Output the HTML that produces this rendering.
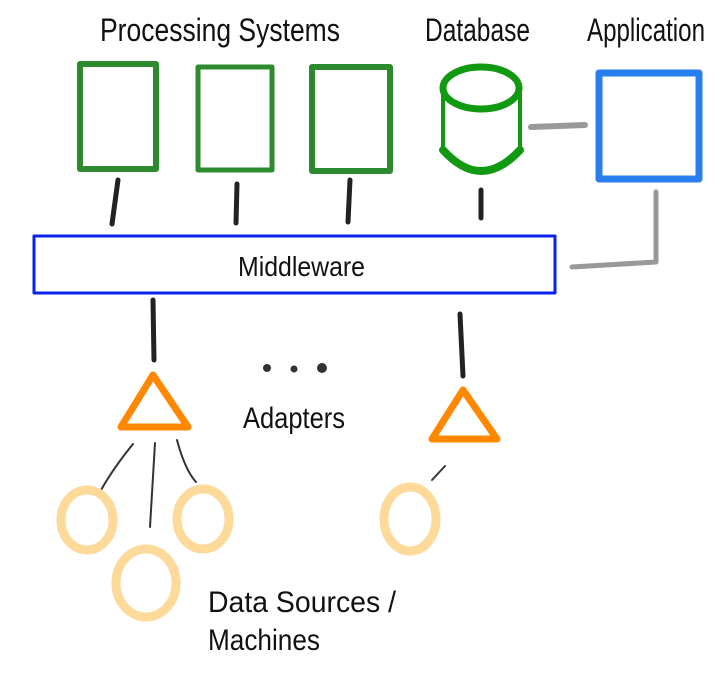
<!DOCTYPE html>
<html><head><style>
body{margin:0;background:#fff;width:725px;height:681px;overflow:hidden}
svg{display:block}
text{font-family:"Liberation Sans Narrow","Liberation Sans",sans-serif;fill:#111}
</style></head><body>
<svg width="725" height="681" viewBox="0 0 725 681">
<g fill="none" stroke-linecap="round" stroke-linejoin="round">
<rect x="80" y="64" width="76" height="105" stroke="#2e8a2e" stroke-width="6"/>
<rect x="198" y="67" width="74" height="103" stroke="#2e8a2e" stroke-width="5"/>
<rect x="312" y="67" width="78" height="104" stroke="#2e8a2e" stroke-width="6"/>
<path d="M443 88 V152 M520 88 V152" stroke="#119a11" stroke-width="4"/>
<path d="M443 150 Q481 192 520 150" stroke="#119a11" stroke-width="8"/>
<ellipse cx="481" cy="88" rx="38" ry="21" stroke="#119a11" stroke-width="7"/>
<rect x="599" y="73" width="100" height="106" stroke="#2a7ff0" stroke-width="7"/>
<path d="M531 127 L585 125" stroke="#999" stroke-width="6"/>
<path d="M656 192 V262 L572 267" stroke="#999" stroke-width="5"/>
<path d="M118 180 L112 224 M237 184 L236 223 M350 180 L348 222 M481 190 L481 218" stroke="#222" stroke-width="5"/>
<rect x="34" y="236" width="521" height="57" stroke="#0a22ee" stroke-width="3"/>
<path d="M153 300 L154 360 M460 314 L463 376" stroke="#222" stroke-width="5"/>
<path d="M153 375 L121 427 H188 Z" stroke="#ff8800" stroke-width="7"/>
<path d="M463 390 L432 439 H497 Z" stroke="#ff8800" stroke-width="7"/>
<path d="M133 444 Q112 470 100 492 M155 443 L150 527 M177 440 Q185 470 196 482 M445 466 L432 480" stroke="#333" stroke-width="2"/>
<g stroke="#fdd99a" stroke-width="9">
<ellipse cx="87" cy="520" rx="26" ry="30"/>
<ellipse cx="146" cy="583" rx="30" ry="34"/>
<ellipse cx="203" cy="519" rx="26" ry="30"/>
<ellipse cx="410" cy="519" rx="26" ry="32"/>
</g>
</g>
<circle cx="267" cy="368" r="4" fill="#333"/>
<circle cx="294" cy="369" r="3.5" fill="#333"/>
<circle cx="322" cy="368" r="5" fill="#333"/>
<text x="100" y="41" font-size="32" textLength="240" lengthAdjust="spacingAndGlyphs">Processing Systems</text>
<text x="425" y="41" font-size="32" textLength="105" lengthAdjust="spacingAndGlyphs">Database</text>
<text x="587" y="41" font-size="32" textLength="118" lengthAdjust="spacingAndGlyphs">Application</text>
<text x="238" y="276" font-size="28" textLength="127" lengthAdjust="spacingAndGlyphs">Middleware</text>
<text x="243" y="428" font-size="30" textLength="102" lengthAdjust="spacingAndGlyphs">Adapters</text>
<text x="208" y="612" font-size="30" textLength="188" lengthAdjust="spacingAndGlyphs">Data Sources /</text>
<text x="208" y="650" font-size="30" textLength="112" lengthAdjust="spacingAndGlyphs">Machines</text>
</svg>
</body></html>
